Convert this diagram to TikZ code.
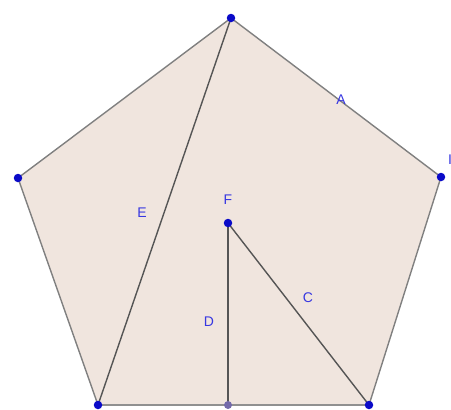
\documentclass[tikz,border=0pt]{standalone}
\usepackage{fontspec}
\setmainfont{Liberation Sans}
\definecolor{fillc}{RGB}{240,229,222}
\definecolor{edgec}{RGB}{85,85,85}
\definecolor{ptc}{RGB}{10,10,200}
\definecolor{labc}{RGB}{55,55,225}
\definecolor{greyc}{RGB}{115,105,170}
\begin{document}
\begin{tikzpicture}[x=1pt,y=-1pt,
  pt/.style={circle,fill=ptc,inner sep=0pt,minimum size=8.5pt},
  gpt/.style={circle,fill=greyc,inner sep=0pt,minimum size=8pt},
  lab/.style={text=labc,font=\fontsize{14}{14}\selectfont,inner sep=0pt},
  edge/.style={draw=edgec,line width=1.4pt}]
\useasboundingbox (0,0) rectangle (451,410);
\clip (0,0) rectangle (451,410);
\coordinate (T) at (231,18);
\coordinate (R) at (441,177);
\coordinate (BR) at (369,405);
\coordinate (BL) at (98,405);
\coordinate (L) at (18,178);
\coordinate (F) at (228,223);
\coordinate (G) at (228,405);
\fill[fillc] (T) -- (R) -- (BR) -- (BL) -- (L) -- cycle;
\draw[edge,draw=edgec!75] (T) -- (R) -- (BR);
\draw[edge,draw=edgec!75] (BL) -- (L) -- (T);
\draw[edge,draw=edgec!65] (BL) -- (BR);
\draw[edge] (T) -- (BL);
\draw[edge] (F) -- (G);
\draw[edge] (F) -- (BR);
\node[pt] (nT) at (T) {};
\node[pt] (nR) at (R) {};
\node[pt] (nBR) at (BR) {};
\node[pt] (nBL) at (BL) {};
\node[pt] (nL) at (L) {};
\node[pt] (nF) at (F) {};
\node[gpt] (nG) at (G) {};
\node[lab] (lA) at (341,100) {A};
\node[lab] (lI) at (450,160) {I};
\node[lab] (lE) at (142,213) {E};
\node[lab] (lF) at (228,200) {F};
\node[lab] (lC) at (308,298) {C};
\node[lab] (lD) at (209,322) {D};
\end{tikzpicture}
\end{document}
